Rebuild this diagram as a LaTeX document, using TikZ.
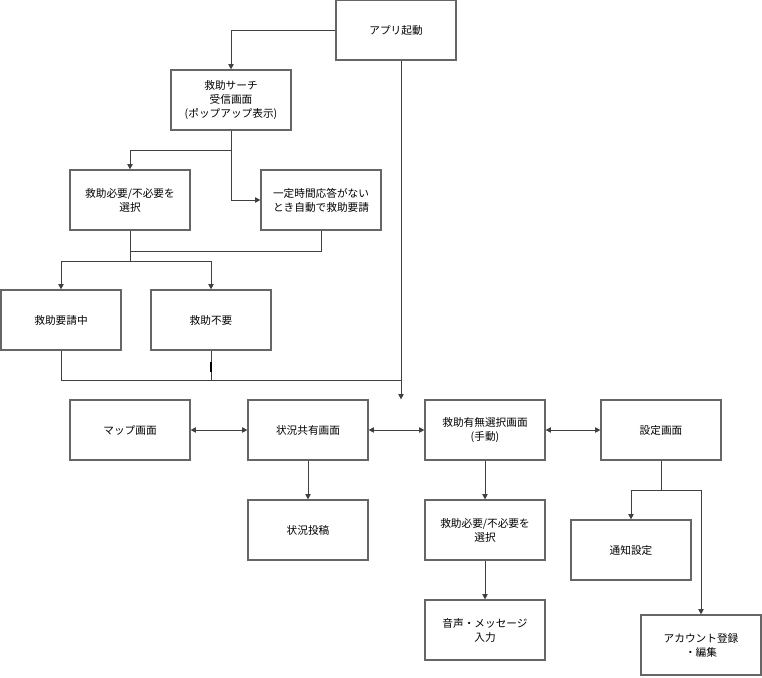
\documentclass[tikz,border=0pt]{standalone}
\usepackage{fontspec}
\setmainfont{Noto Sans CJK JP}
\usetikzlibrary{arrows.meta,positioning}
\tikzset{
  box/.style = {draw=black!60, line width=0.9pt, fill=white, minimum width=90pt, minimum height=45pt,
                align=center, font=\fontsize{8}{10.5}\selectfont, inner sep=1pt},
  link/.style = {draw=black!75, line width=0.7pt, -{Triangle[length=4pt,width=4pt]}},
  line/.style = {draw=black!75, line width=0.7pt}
}
\begin{document}
\begin{tikzpicture}[x=0.75pt, y=-0.75pt]
  \useasboundingbox (0,0) rectangle (762,677);
  % top part
  \node[box] (start) at (396,30) {アプリ起動};
  \node[box] (popup) at (231,100) {救助サーチ\\受信画面\\(ポップアップ表示)};
  \node[box] (choose) at (130,200) {救助必要/不必要を\\選択};
  \node[box] (auto) at (321,200) {一定時間応答がない\\とき自動で救助要請};
  \node[box] (req) at (61,320) {救助要請中};
  \node[box] (noreq) at (211,320) {救助不要};
  % middle row
  \node[box] (map) at (130,430) {マップ画面};
  \node[box] (share) at (308,430) {状況共有画面};
  \node[box] (manual) at (485,430) {救助有無選択画面\\(手動)};
  \node[box] (config) at (661,430) {設定画面};
  % lower part
  \node[box] (post) at (308,530) {状況投稿};
  \node[box] (choose2) at (485,530) {救助必要/不必要を\\選択};
  \node[box] (voice) at (485,630) {音声・メッセージ\\入力};
  \node[box] (notify) at (631,550) {通知設定};
  \node[box] (account) at (701,645) {アカウント登録\\・編集};

  \draw[link] (start.west) -| (popup.north);
  \draw[link] (start.south -| 401,0) -- (manual.north -| 401,0);
  \draw[link] (popup.south) |- (130,150) -- (choose.north);
  \draw[link] (231,150) |- (auto.west);
  \draw[line] (choose.south) -- (130,261);
  \draw[line] (auto.south) |- (130,251);
  \draw[link] (130,261) -| (req.north);
  \draw[link] (130,261) -| (noreq.north);
  \draw[line] (req.south) |- (401,380);
  \draw[line] (noreq.south) -- (211,380);
  \draw[line, line width=1.2pt, black] (211,362) -- (211,372);

  \draw[link, {Triangle[length=4pt,width=4pt]}-{Triangle[length=4pt,width=4pt]}] (map) -- (share);
  \draw[link, {Triangle[length=4pt,width=4pt]}-{Triangle[length=4pt,width=4pt]}] (share) -- (manual);
  \draw[link, {Triangle[length=4pt,width=4pt]}-{Triangle[length=4pt,width=4pt]}] (manual) -- (config);
  \draw[link] (share) -- (post);
  \draw[link] (manual) -- (choose2);
  \draw[link] (choose2) -- (voice);
  \draw[link] (config.south) |- (631,490) -- (notify.north);
  \draw[link] (661,490) -| (account.north);
\end{tikzpicture}
\end{document}
